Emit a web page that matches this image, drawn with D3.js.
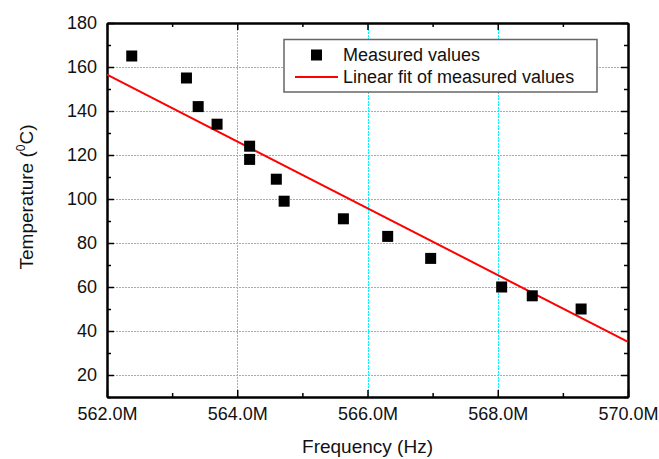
<!DOCTYPE html>
<html>
<head>
<meta charset="utf-8">
<script src="https://cdn.jsdelivr.net/npm/d3@7"></script>
<style>
  body { margin: 0; background: #fff; }
  text { font-family: "Liberation Sans", Arial, sans-serif; fill: #111; }
</style>
</head>
<body>
<div id="chart"></div>
<script>
// Measured values (frequency in MHz, temperature in deg C)
const FREQ = [562.38, 563.22, 563.40, 563.69, 564.19, 564.19, 564.60, 564.72,
              565.63, 566.31, 566.97, 568.06, 568.53, 569.28];
const TEMP = [165, 155, 142, 134, 124, 118, 109, 99, 91, 83, 73, 60, 56, 50];

// Linear fit end points
const FIT_FREQ = [562.0, 570.0];
const FIT_TEMP = [156.5, 35.1];

// Tick values
const X_TICKS = [562, 564, 566, 568, 570];
const X_MINOR = [563, 565, 567, 569];
const Y_TICKS = [20, 40, 60, 80, 100, 120, 140, 160, 180];
const Y_MINOR = [10, 30, 50, 70, 90, 110, 130, 150, 170];

const LEGEND_LABELS = ["Measured values", "Linear fit of measured values"];

// Frame and plot area
const FRAME_WIDTH = 659;
const FRAME_HEIGHT = 459;
const MARGINS = {left: 107, right: 31, top: 23, bottom: 62};
const VIS_WIDTH = FRAME_WIDTH - MARGINS.left - MARGINS.right;
const VIS_HEIGHT = FRAME_HEIGHT - MARGINS.top - MARGINS.bottom;

const FRAME = d3.select("#chart")
  .append("svg")
    .attr("width", FRAME_WIDTH)
    .attr("height", FRAME_HEIGHT);

const X_SCALE = d3.scaleLinear().domain([562, 570]).range([0, VIS_WIDTH]);
const Y_SCALE = d3.scaleLinear().domain([10, 180]).range([VIS_HEIGHT, 0]);

const PLOT = FRAME.append("g")
  .attr("transform", "translate(" + MARGINS.left + "," + MARGINS.top + ")");

// Grid lines (fine dotted cyan), snapped to pixel centres
const snap = v => Math.round(v) + 0.5;
const GRID_COLOR = "#00f2ff";

PLOT.selectAll(".vgrid")
  .data(X_TICKS.slice(1, -1))
  .enter()
  .append("line")
    .attr("x1", d => snap(X_SCALE(d))).attr("x2", d => snap(X_SCALE(d)))
    .attr("y1", 0).attr("y2", VIS_HEIGHT)
    .attr("stroke", GRID_COLOR)
    .attr("stroke-width", 1)
    .attr("stroke-dasharray", "2,1");

PLOT.selectAll(".hgrid")
  .data(Y_TICKS.slice(0, -1))
  .enter()
  .append("line")
    .attr("x1", 0).attr("x2", VIS_WIDTH)
    .attr("y1", d => snap(Y_SCALE(d))).attr("y2", d => snap(Y_SCALE(d)))
    .attr("stroke", GRID_COLOR)
    .attr("stroke-width", 1)
    .attr("stroke-dasharray", "2,1");

// Axes: labelled bottom/left, mirrored top/right, ticks pointing inward
function styleAxis(g) {
  g.select(".domain").attr("stroke", "#000").attr("stroke-width", 2);
  g.selectAll(".tick line").attr("stroke", "#000").attr("stroke-width", 1.5);
  g.selectAll(".tick text").style("font-size", "18px").attr("fill", "#111");
}

const fmtX = d => d.toFixed(1) + "M";

PLOT.append("g")
  .attr("transform", "translate(0," + VIS_HEIGHT + ")")
  .call(d3.axisBottom(X_SCALE).tickValues(X_MINOR).tickSize(-4).tickSizeOuter(0).tickFormat(""))
  .call(styleAxis);
PLOT.append("g")
  .attr("transform", "translate(0," + VIS_HEIGHT + ")")
  .call(d3.axisBottom(X_SCALE).tickValues(X_TICKS).tickSize(-7).tickSizeOuter(0)
        .tickPadding(10).tickFormat(fmtX))
  .call(styleAxis);

PLOT.append("g")
  .call(d3.axisTop(X_SCALE).tickValues(X_MINOR).tickSize(-4).tickSizeOuter(0).tickFormat(""))
  .call(styleAxis);
PLOT.append("g")
  .call(d3.axisTop(X_SCALE).tickValues(X_TICKS).tickSize(-7).tickSizeOuter(0).tickFormat(""))
  .call(styleAxis);

PLOT.append("g")
  .call(d3.axisLeft(Y_SCALE).tickValues(Y_MINOR).tickSize(-4).tickSizeOuter(0).tickFormat(""))
  .call(styleAxis);
PLOT.append("g")
  .call(d3.axisLeft(Y_SCALE).tickValues(Y_TICKS).tickSize(-7).tickSizeOuter(0).tickPadding(10))
  .call(styleAxis);

PLOT.append("g")
  .attr("transform", "translate(" + VIS_WIDTH + ",0)")
  .call(d3.axisRight(Y_SCALE).tickValues(Y_MINOR).tickSize(-4).tickSizeOuter(0).tickFormat(""))
  .call(styleAxis);
PLOT.append("g")
  .attr("transform", "translate(" + VIS_WIDTH + ",0)")
  .call(d3.axisRight(Y_SCALE).tickValues(Y_TICKS).tickSize(-7).tickSizeOuter(0).tickFormat(""))
  .call(styleAxis);

// Fit line
const fitData = FIT_FREQ.map((f, i) => ({x: f, y: FIT_TEMP[i]}));
PLOT.append("path")
  .datum(fitData)
  .attr("fill", "none")
  .attr("stroke", "#ff0000")
  .attr("stroke-width", 2)
  .attr("d", d3.line().x(d => X_SCALE(d.x)).y(d => Y_SCALE(d.y)));

// Measured points as squares
const SQ = 11;
PLOT.selectAll(".pt")
  .data(FREQ.map((f, i) => ({x: f, y: TEMP[i]})))
  .enter()
  .append("rect")
    .attr("x", d => X_SCALE(d.x) - SQ / 2)
    .attr("y", d => Y_SCALE(d.y) - SQ / 2)
    .attr("width", SQ)
    .attr("height", SQ)
    .attr("fill", "#000");

// Legend
const LEG = FRAME.append("g").attr("transform", "translate(284,39.5)");
LEG.append("rect")
  .attr("width", 313).attr("height", 52.5)
  .attr("fill", "#fff")
  .attr("stroke", "#666")
  .attr("stroke-width", 1.5);
LEG.append("rect")
  .attr("x", 32.5 - SQ / 2).attr("y", 15.5 - SQ / 2)
  .attr("width", SQ).attr("height", SQ)
  .attr("fill", "#000");
LEG.append("line")
  .attr("x1", 11).attr("x2", 54)
  .attr("y1", 37.5).attr("y2", 37.5)
  .attr("stroke", "#ff0000").attr("stroke-width", 2);
LEG.selectAll(".legtext")
  .data(LEGEND_LABELS)
  .enter()
  .append("text")
    .attr("x", 59)
    .attr("y", (d, i) => 21 + i * 22.5)
    .style("font-size", "18px")
    .text(d => d);

// Axis titles
FRAME.append("text")
  .attr("x", MARGINS.left + VIS_WIDTH / 2)
  .attr("y", 453)
  .attr("text-anchor", "middle")
  .style("font-size", "19px")
  .text("Frequency (Hz)");

const YT = FRAME.append("text")
  .attr("transform", "translate(33,197) rotate(-90)")
  .attr("text-anchor", "middle")
  .style("font-size", "19px");
YT.append("tspan").text("Temperature (");
YT.append("tspan").attr("dy", -8).style("font-size", "12px").text("0");
YT.append("tspan").attr("dy", 8).text("C)");
</script>
</body>
</html>
